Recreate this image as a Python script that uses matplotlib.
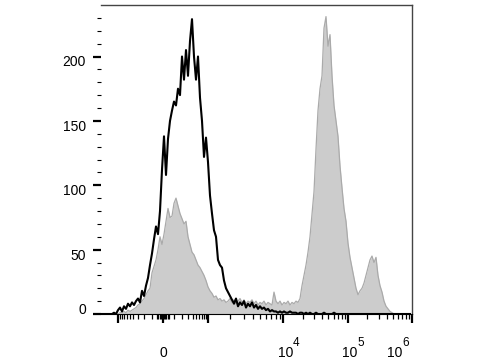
import numpy as np
import matplotlib.pyplot as plt
from matplotlib import transforms

plt.rcParams['font.family'] = ['Liberation Sans', 'DejaVu Sans']

# counts per channel (155 channels across the biexponential axis)
black_counts = [
    0, 0, 0, 0, 0, 0, 1, 0, 3, 5,
    2, 6, 4, 8, 6, 9, 7, 10, 12, 9,
    18, 14, 22, 28, 38, 47, 58, 68, 62, 80,
    112, 138, 108, 136, 150, 158, 165, 162, 175, 170,
    200, 182, 205, 185, 212, 229, 200, 182, 200, 168,
    150, 122, 137, 118, 92, 78, 65, 60, 42, 38,
    36, 26, 20, 17, 14, 11, 8, 12, 6, 9,
    7, 10, 5, 8, 6, 9, 5, 7, 4, 6,
    4, 5, 3, 4, 2, 3, 2, 2, 1, 2,
    1, 2, 1, 1, 2, 1, 1, 1, 0, 1,
    1, 0, 1, 0, 1, 0, 0, 1, 0, 0,
    0, 1, 0, 0, 0, 0, 1, 0, 0, 0,
    0, 0, 0, 0, 0, 0, 0, 0, 0, 0,
    0, 0, 0, 0, 0, 0, 0, 0, 0, 0,
    0, 0, 0, 0, 0, 0, 0, 0, 0, 0,
    0, 0, 0, 0, 0,
]
gray_counts = [
    0, 0, 0, 0, 0, 0, 0, 0, 0,
    1, 1, 2, 1, 3, 2, 3, 4, 5, 7,
    8, 10, 12, 15, 18, 20, 32, 37, 42, 50,
    60, 54, 62, 72, 82, 75, 76, 86, 90, 84,
    78, 74, 70, 72, 60, 54, 48, 46, 42, 38,
    36, 33, 30, 26, 21, 18, 16, 13, 14, 11,
    12, 10, 11, 9, 10, 12, 9, 11, 8, 10,
    12, 9, 11, 8, 10, 9, 11, 8, 10, 7,
    9, 8, 10, 7, 9, 8, 7, 17, 10, 8,
    10, 7, 9, 8, 10, 7, 9, 8, 10, 9,
    12, 22, 30, 38, 48, 60, 78, 95, 128, 158,
    175, 185, 222, 231, 208, 217, 185, 162, 150, 138,
    115, 98, 82, 72, 55, 44, 36, 28, 20, 15,
    18, 20, 24, 30, 36, 42, 45, 40, 44, 30,
    22, 17, 10, 6, 4, 2, 1,
    0, 0, 0, 0, 0, 0, 0, 0, 0,
]

y_major = [0, 50, 100, 150, 200]
x_major = [-1000, 0, 1000, 1e4, 1e5, 1e6]
x_minor = ([s * v for s in (-1, 1) for v in range(10, 60, 10)]
           + [s * v for s in (-1, 1) for v in range(100, 1000, 100)]
           + [m * d for d in (1e3, 1e4, 1e5) for m in range(2, 10)])

# biexponential-like axis: asinh, bent to match the reference decades
W = 150.0
ANCHOR_U = np.arcsinh(np.array([0, 1e3, 1e4, 1e5, 1e6, 1e7]) / W)
ANCHOR_P = np.array([0, 45, 120, 185, 249, 313.0])


def forward(x):
    x = np.asarray(x, float)
    return np.sign(x) * np.interp(np.arcsinh(np.abs(x) / W), ANCHOR_U, ANCHOR_P)


def inverse(p):
    p = np.asarray(p, float)
    return np.sign(p) * W * np.sinh(np.interp(np.abs(p), ANCHOR_P, ANCHOR_U))


# channel centres, equally spaced in display units
centers = inverse(np.linspace(-61, 247, len(black_counts)))

fig = plt.figure(figsize=(4.8, 3.6), dpi=100)
ax = fig.add_axes([101 / 480, 46 / 360, 311 / 480, 309 / 360])
ax.set_xscale('function', functions=(forward, inverse))

ax.fill_between(centers, gray_counts, color='#cccccc', lw=0, zorder=2)
ax.plot(centers, gray_counts, color='#aaaaaa', lw=0.9, zorder=3)
ax.plot(centers, black_counts, color='black', lw=1.5, zorder=4)

ax.set_xlim(inverse(-62), 1e6)
ax.set_ylim(0, 240)

ax.set_yticks(y_major)
ax.set_yticks(np.arange(0, 240, 10), minor=True)
ax.set_xticks(x_major)
ax.set_xticks(x_minor, minor=True)
ax.tick_params(axis='y', which='major', length=5.8, width=1.6, labelleft=False)
ax.tick_params(axis='y', which='minor', length=3, width=0.8)
ax.tick_params(axis='x', which='major', length=6.5, width=1.6, labelbottom=False)
ax.tick_params(axis='x', which='minor', length=3.6, width=0.9)

ax.spines['left'].set_visible(False)
for side in ('top', 'right'):
    ax.spines[side].set_color('#444444')
    ax.spines[side].set_linewidth(1.0)
ax.spines['bottom'].set_linewidth(0.8)


def shift(dx, dy):
    return transforms.ScaledTranslation(dx / 100, -dy / 100, fig.dpi_scale_trans)


ytrans = transforms.blended_transform_factory(ax.transAxes, ax.transData)
for v in y_major:
    dy = -4 if v == 0 else 6
    ax.text(0, v, str(v), transform=ytrans + shift(-15, dy),
            ha='right', va='center', fontsize=10)

xtrans = transforms.blended_transform_factory(ax.transData, ax.transAxes)
ax.text(0, 0, '0', transform=xtrans + shift(0, 43), ha='center',
        va='baseline', fontsize=10)
for d, exp, dx in [(1e4, '4', -5), (1e5, '5', -6), (1e6, '6', -25)]:
    ax.text(d, 0, '10', transform=xtrans + shift(dx, 43), ha='left',
            va='baseline', fontsize=10)
    ax.text(d, 0, exp, transform=xtrans + shift(dx + 15, 32), ha='left',
            va='baseline', fontsize=8.5)

fig.savefig('out.png', dpi=100)
